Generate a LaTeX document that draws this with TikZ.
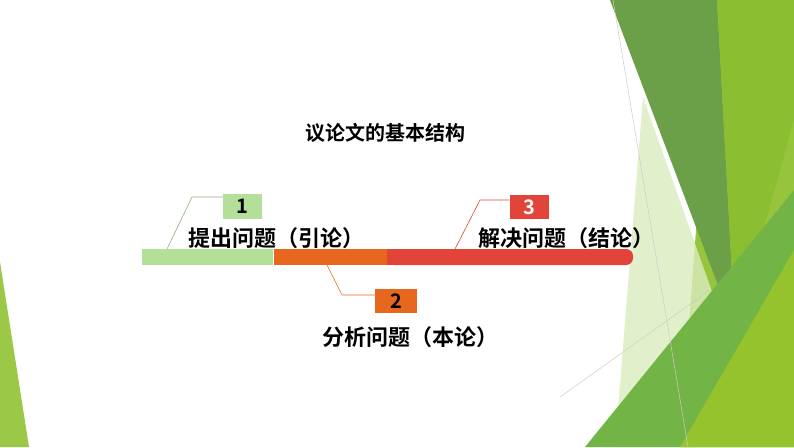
\documentclass[tikz,border=0pt]{standalone}
\usepackage{fontspec}
\newfontfamily\cjk{Noto Sans CJK SC Bold}
\definecolor{lg}{HTML}{B3DF98}
\definecolor{og}{HTML}{E8671E}
\definecolor{rd}{HTML}{E2443A}
\begin{document}
\begin{tikzpicture}[x=1pt,y=-1pt,
 lbl/.style={font=\cjk\fontsize{22}{24}\selectfont,inner sep=0},
 numbox/.style={minimum width=39pt,minimum height=25pt,inner sep=0,font=\cjk\fontsize{20}{22}\selectfont}]
\useasboundingbox (0,0) rectangle (794,447);
\fill[white] (0,0) rectangle (794,447);
% decorations
\fill[green!55!black!70!lime!80!white,fill=olive!70!green] (0,0) rectangle (0,0);
\fill[color={rgb,255:red,150;green,196;blue,60}] (713,0) -- (794,0) -- (794,447) -- (680,447) -- cycle;
\fill[color={rgb,255:red,108;green,160;blue,72}] (610,0) -- (717,0) -- (735,330) -- cycle;
\fill[color={rgb,255:red,140;green,190;blue,50}] (717,0) -- (794,0) -- (794,120) -- (735,330) -- cycle;
\fill[color={rgb,255:red,218;green,235;blue,190},opacity=0.8] (643,97) -- (715,300) -- (700,447) -- (615,447) -- cycle;
\fill[color={rgb,255:red,115;green,180;blue,70}] (585,447) -- (794,190) -- (794,447) -- cycle;
\fill[color={rgb,255:red,148;green,195;blue,45}] (680,447) -- (794,250) -- (794,447) -- cycle;
\draw[gray!40,line width=0.5] (613,0) -- (688,447);
\draw[gray!40,line width=0.5] (560,397) -- (710,290);
\fill[color={rgb,255:red,155;green,200;blue,70}] (0,262) -- (29,447) -- (0,447) -- cycle;
% title
\node[lbl,font=\cjk\fontsize{20}{22}\selectfont] (title) at (385,133) {议论文的基本结构};
% bar
\node[fill=lg,minimum width=131pt,minimum height=16pt,inner sep=0,anchor=west] (b1) at (142,257) {};
\node[fill=og,minimum width=114pt,minimum height=16pt,inner sep=0,anchor=west] (b2) at (b1.east) {};
\fill[rd,rounded corners=7pt] (387,249) rectangle (633,265);
\fill[rd] (387,249) rectangle (400,265);
\coordinate (b3) at (510,257);
% boxes
\node[numbox,fill=lg] (n1) at (242.5,206) {1};
\node[numbox,fill=og,minimum width=42pt,minimum height=24pt] (n2) at (396,301) {2};
\node[numbox,fill=rd,minimum height=24pt,text=white] (n3) at (529,207) {3};
\node[lbl] (t1) at (276,238) {提出问题（引论）};
\node[lbl] (t2) at (410,337) {分析问题（本论）};
\node[lbl] (t3) at (566,238) {解决问题（结论）};
% callout lines
\coordinate (c1) at (167,249);
\coordinate (c2) at (327,265);
\coordinate (c3) at (455,249);
\draw[lg!80!black,line width=0.6] (c1) -- (192,197) -- (n1.west |- 0,197);
\draw[og,line width=0.6] (c2) -- (342,295) -- (n2.west |- 0,295);
\draw[rd,line width=0.6] (c3) -- (480,200) -- (n3.west |- 0,200);
\end{tikzpicture}
\end{document}
